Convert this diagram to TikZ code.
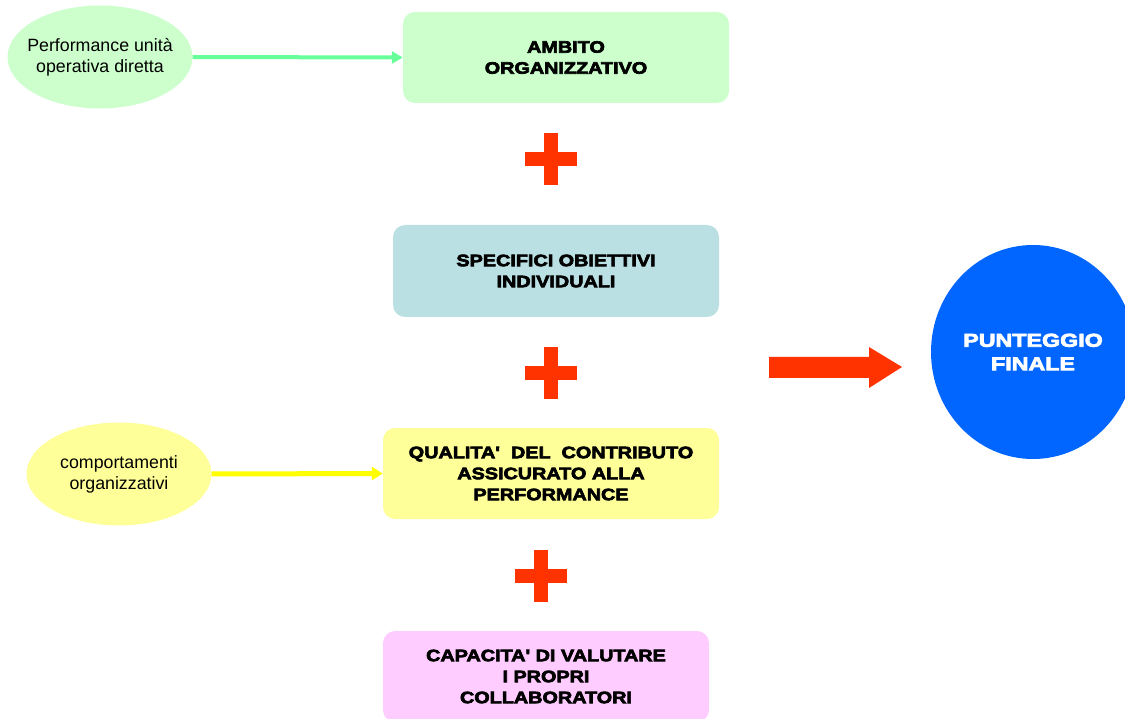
\documentclass[tikz,border=0pt]{standalone}
\usepackage{fontspec}
\setmainfont{Liberation Sans}
\newfontfamily\heavyfont[FakeStretch=1.2,FakeBold=4]{Liberation Sans}
\newfontfamily\circfont[FakeStretch=1.25,FakeBold=4]{Liberation Sans}
\usetikzlibrary{arrows.meta,shapes.geometric}
\definecolor{boxgreen}{HTML}{CCFFCC}
\definecolor{boxteal}{HTML}{BBE0E3}
\definecolor{boxyellow}{HTML}{FFFF99}
\definecolor{boxpink}{HTML}{FFCCFF}
\definecolor{arrgreen}{HTML}{66FF99}
\definecolor{arryellow}{HTML}{FFFF00}
\definecolor{plusred}{HTML}{FF3300}
\definecolor{circblue}{HTML}{0066FF}
\tikzset{
  box/.style={rounded corners=12pt, draw=none, align=center, inner sep=0pt,
    font=\heavyfont\bfseries\fontsize{16.5}{21}\selectfont},
  oval/.style={ellipse, draw=none, align=center, inner xsep=-20pt, inner ysep=0pt,
    minimum width=185pt, minimum height=103pt,
    font=\fontsize{17.8}{21}\selectfont},
}
\begin{document}
\begin{tikzpicture}[x=1pt,y=-1pt]
\useasboundingbox (0,0) rectangle (1125,719);

% boxes
\node[box, fill=boxgreen, minimum width=326pt, minimum height=91pt] (amb) at (566,57.5) {AMBITO\\ORGANIZZATIVO};
\node[box, fill=boxteal, minimum width=326pt, minimum height=92pt] (spe) at (556,271) {SPECIFICI OBIETTIVI\\INDIVIDUALI};
\node[box, fill=boxyellow, minimum width=336pt, minimum height=91pt] (qua) at (551,473.5) {QUALITA'\ \ DEL\ \ CONTRIBUTO\\ASSICURATO ALLA\\PERFORMANCE};
\node[box, fill=boxpink, minimum width=326pt, minimum height=91pt] (cap) at (546,676.5) {CAPACITA' DI VALUTARE\\I PROPRI\\COLLABORATORI};

% ellipses
\node[oval, fill=boxgreen] (perf) at (100,57) {Performance unità\\operativa diretta};
\node[oval, fill=boxyellow] (comp) at (119,474) {comportamenti\\organizzativi};

% arrows
\draw[arrgreen, line width=4pt, -{Triangle[length=11pt,width=12pt]}] (perf.east) -- (amb.west);
\draw[arryellow, line width=5pt, -{Triangle[length=11pt,width=13pt]}] (comp.east) -- (qua.west);

% plus signs
\foreach \cx/\cy in {551/159, 551/373, 541/576}{
  \fill[plusred] (\cx-26,\cy-7) rectangle (\cx+26,\cy+7);
  \fill[plusred] (\cx-7,\cy-26) rectangle (\cx+7,\cy+26);
}

% circle
\node[ellipse, fill=circblue, draw=none, minimum width=204pt, minimum height=214pt, inner sep=0pt,
  align=center, text=white, font=\circfont\bfseries\fontsize{18.6}{23.5}\selectfont] (fin) at (1033,352) {PUNTEGGIO\\FINALE};

% big arrow
\coordinate (bigtip) at (902,367);
\fill[plusred] (769,357) -- (869,357) -- (869,347) -- (bigtip) -- (869,388) -- (869,378) -- (769,378) -- cycle;
\end{tikzpicture}
\end{document}
